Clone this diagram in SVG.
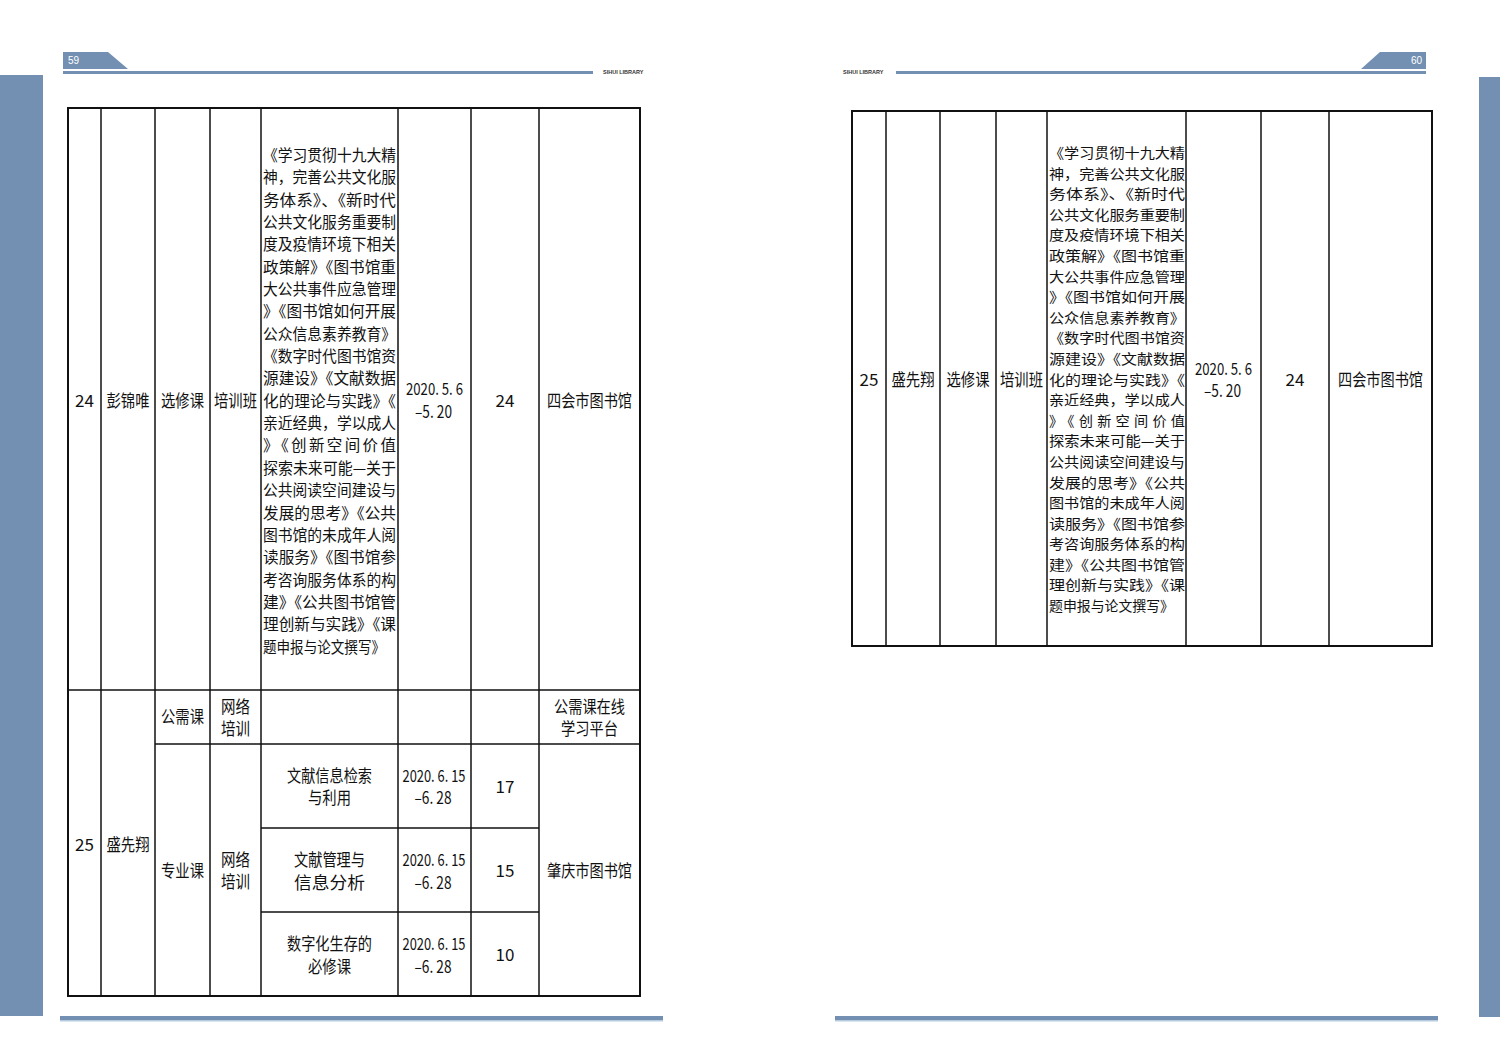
<svg xmlns="http://www.w3.org/2000/svg" width="1500" height="1061" viewBox="0 0 1500 1061">
<style>
.bar{fill:#7390b2}
.t{font-family:"Noto Sans CJK SC","Liberation Sans",sans-serif;font-size:17px;fill:#111;text-anchor:middle}
.l{font-family:"Noto Sans CJK SC","Liberation Sans",sans-serif;font-size:15.5px;fill:#111}
.r{font-family:"Noto Sans CJK SC","Liberation Sans",sans-serif;font-size:14.2px;fill:#111}
.g{stroke:#111;stroke-width:1.5;fill:none}
.o{stroke:#111;stroke-width:2;fill:none}
.pn{font-family:"Liberation Sans",sans-serif;font-size:10px;fill:#fff}
.lib{font-family:"Liberation Sans",sans-serif;font-size:5.5px;fill:#333;font-weight:bold}
</style>
<rect width="1500" height="1061" fill="#fff"/>
<g id="page-decor">
<rect class="bar" x="0" y="75" width="43" height="941"/>
<rect class="bar" x="1479" y="77" width="21" height="940"/>
<polygon class="bar" points="63,52 108,52 128,69 63,69"/>
<text class="pn" x="68" y="64">59</text>
<rect class="bar" x="63" y="71" width="530" height="3"/>
<text class="lib" x="603" y="74">SIHUI LIBRARY</text>
<polygon class="bar" points="1380,52 1426,52 1426,69 1361,69"/>
<text class="pn" x="1411" y="64">60</text>
<rect class="bar" x="896" y="71" width="530" height="3"/>
<text class="lib" x="843" y="74">SIHUI LIBRARY</text>
<rect class="bar" x="60" y="1016" width="603" height="4"/>
<rect x="60" y="1020" width="603" height="1.5" fill="#b8cce0"/>
<rect class="bar" x="835" y="1016" width="603" height="4"/>
<rect x="835" y="1020" width="603" height="1.5" fill="#b8cce0"/>
</g>
<g id="left-table-lines">
<rect class="o" x="68" y="108" width="572" height="888"/>
<line class="o" x1="68" y1="996" x2="640" y2="996"/>
<line class="g" x1="101" y1="108" x2="101" y2="996"/>
<line class="g" x1="155" y1="108" x2="155" y2="996"/>
<line class="g" x1="210" y1="108" x2="210" y2="996"/>
<line class="g" x1="261" y1="108" x2="261" y2="996"/>
<line class="g" x1="398" y1="108" x2="398" y2="996"/>
<line class="g" x1="471" y1="108" x2="471" y2="996"/>
<line class="g" x1="539" y1="108" x2="539" y2="996"/>
<line class="g" x1="68" y1="690" x2="640" y2="690"/>
<line class="g" x1="155" y1="744" x2="640" y2="744"/>
<line class="g" x1="261" y1="828" x2="539" y2="828"/>
<line class="g" x1="261" y1="912" x2="539" y2="912"/>
</g>
<g id="left-row24">
<text class="t" x="84.5" y="407">24</text>
<text class="t" x="128" y="407" textLength="43" lengthAdjust="spacingAndGlyphs">彭锦唯</text>
<text class="t" x="182.5" y="407" textLength="43" lengthAdjust="spacingAndGlyphs">选修课</text>
<text class="t" x="235.5" y="407" textLength="43" lengthAdjust="spacingAndGlyphs">培训班</text>
<text class="l" x="263" y="161" textLength="133" lengthAdjust="spacingAndGlyphs">《学习贯彻十九大精</text>
<text class="l" x="263" y="183" textLength="133" lengthAdjust="spacingAndGlyphs">神，完善公共文化服</text>
<text class="l" x="263" y="206" textLength="133" lengthAdjust="spacingAndGlyphs">务体系》、《新时代</text>
<text class="l" x="263" y="228" textLength="133" lengthAdjust="spacingAndGlyphs">公共文化服务重要制</text>
<text class="l" x="263" y="250" textLength="133" lengthAdjust="spacingAndGlyphs">度及疫情环境下相关</text>
<text class="l" x="263" y="273" textLength="133" lengthAdjust="spacingAndGlyphs">政策解》《图书馆重</text>
<text class="l" x="263" y="295" textLength="133" lengthAdjust="spacingAndGlyphs">大公共事件应急管理</text>
<text class="l" x="263" y="317" textLength="133" lengthAdjust="spacingAndGlyphs">》《图书馆如何开展</text>
<text class="l" x="263" y="340" textLength="133" lengthAdjust="spacingAndGlyphs">公众信息素养教育》</text>
<text class="l" x="263" y="362" textLength="133" lengthAdjust="spacingAndGlyphs">《数字时代图书馆资</text>
<text class="l" x="263" y="384" textLength="133" lengthAdjust="spacingAndGlyphs">源建设》《文献数据</text>
<text class="l" x="263" y="407" textLength="133" lengthAdjust="spacingAndGlyphs">化的理论与实践》《</text>
<text class="l" x="263" y="429" textLength="133" lengthAdjust="spacingAndGlyphs">亲近经典，学以成人</text>
<text class="l" x="263" y="451" textLength="133" lengthAdjust="spacing">》《创新空间价值</text>
<text class="l" x="263" y="474" textLength="133" lengthAdjust="spacingAndGlyphs">探索未来可能—关于</text>
<text class="l" x="263" y="496" textLength="133" lengthAdjust="spacingAndGlyphs">公共阅读空间建设与</text>
<text class="l" x="263" y="519" textLength="133" lengthAdjust="spacingAndGlyphs">发展的思考》《公共</text>
<text class="l" x="263" y="541" textLength="133" lengthAdjust="spacingAndGlyphs">图书馆的未成年人阅</text>
<text class="l" x="263" y="563" textLength="133" lengthAdjust="spacingAndGlyphs">读服务》《图书馆参</text>
<text class="l" x="263" y="586" textLength="133" lengthAdjust="spacingAndGlyphs">考咨询服务体系的构</text>
<text class="l" x="263" y="608" textLength="133" lengthAdjust="spacingAndGlyphs">建》《公共图书馆管</text>
<text class="l" x="263" y="630" textLength="133" lengthAdjust="spacingAndGlyphs">理创新与实践》《课</text>
<text class="l" x="263" y="653" textLength="122" lengthAdjust="spacingAndGlyphs">题申报与论文撰写》</text>
<text class="t" x="434.5" y="395" textLength="57" lengthAdjust="spacingAndGlyphs">2020. 5. 6</text>
<text class="t" x="433.5" y="418" textLength="37" lengthAdjust="spacingAndGlyphs">–5. 20</text>
<text class="t" x="505" y="407">24</text>
<text class="t" x="589.5" y="407" textLength="85" lengthAdjust="spacingAndGlyphs">四会市图书馆</text>
</g>
<g id="left-row25">
<text class="t" x="84.5" y="851">25</text>
<text class="t" x="128" y="851" textLength="43" lengthAdjust="spacingAndGlyphs">盛先翔</text>
<text class="t" x="182.5" y="723" textLength="43" lengthAdjust="spacingAndGlyphs">公需课</text>
<text class="t" x="235.5" y="713" textLength="29" lengthAdjust="spacingAndGlyphs">网络</text>
<text class="t" x="235.5" y="735" textLength="29" lengthAdjust="spacingAndGlyphs">培训</text>
<text class="t" x="589.5" y="713" textLength="71" lengthAdjust="spacingAndGlyphs">公需课在线</text>
<text class="t" x="589.5" y="735" textLength="57" lengthAdjust="spacingAndGlyphs">学习平台</text>
<text class="t" x="182.5" y="877" textLength="43" lengthAdjust="spacingAndGlyphs">专业课</text>
<text class="t" x="235.5" y="866" textLength="29" lengthAdjust="spacingAndGlyphs">网络</text>
<text class="t" x="235.5" y="888" textLength="29" lengthAdjust="spacingAndGlyphs">培训</text>
<text class="t" x="589.5" y="877" textLength="85" lengthAdjust="spacingAndGlyphs">肇庆市图书馆</text>
<text class="t" x="329.5" y="782" textLength="85" lengthAdjust="spacingAndGlyphs">文献信息检索</text>
<text class="t" x="329.5" y="804" textLength="43" lengthAdjust="spacingAndGlyphs">与利用</text>
<text class="t" x="434" y="782" textLength="63" lengthAdjust="spacingAndGlyphs">2020. 6. 15</text>
<text class="t" x="433" y="804" textLength="37" lengthAdjust="spacingAndGlyphs">–6. 28</text>
<text class="t" x="505" y="793">17</text>
<text class="t" x="329.5" y="866" textLength="71" lengthAdjust="spacingAndGlyphs">文献管理与</text>
<text class="t" x="329.5" y="889" textLength="71" lengthAdjust="spacingAndGlyphs">信息分析</text>
<text class="t" x="434" y="866" textLength="63" lengthAdjust="spacingAndGlyphs">2020. 6. 15</text>
<text class="t" x="433" y="889" textLength="37" lengthAdjust="spacingAndGlyphs">–6. 28</text>
<text class="t" x="505" y="877">15</text>
<text class="t" x="329.5" y="950" textLength="85" lengthAdjust="spacingAndGlyphs">数字化生存的</text>
<text class="t" x="329.5" y="973" textLength="43" lengthAdjust="spacingAndGlyphs">必修课</text>
<text class="t" x="434" y="950" textLength="63" lengthAdjust="spacingAndGlyphs">2020. 6. 15</text>
<text class="t" x="433" y="973" textLength="37" lengthAdjust="spacingAndGlyphs">–6. 28</text>
<text class="t" x="505" y="961">10</text>
</g>
<g id="right-table-lines">
<rect class="o" x="852" y="111" width="580" height="535"/>
<line class="g" x1="886" y1="111" x2="886" y2="646"/>
<line class="g" x1="940" y1="111" x2="940" y2="646"/>
<line class="g" x1="996" y1="111" x2="996" y2="646"/>
<line class="g" x1="1047" y1="111" x2="1047" y2="646"/>
<line class="g" x1="1186" y1="111" x2="1186" y2="646"/>
<line class="g" x1="1261" y1="111" x2="1261" y2="646"/>
<line class="g" x1="1329" y1="111" x2="1329" y2="646"/>
</g>
<g id="right-row25">
<text class="t" x="869" y="386">25</text>
<text class="t" x="913" y="386" textLength="43" lengthAdjust="spacingAndGlyphs">盛先翔</text>
<text class="t" x="968" y="386" textLength="43" lengthAdjust="spacingAndGlyphs">选修课</text>
<text class="t" x="1021.5" y="386" textLength="43" lengthAdjust="spacingAndGlyphs">培训班</text>
<text class="r" x="1049" y="158" textLength="136" lengthAdjust="spacingAndGlyphs">《学习贯彻十九大精</text>
<text class="r" x="1049" y="179" textLength="136" lengthAdjust="spacingAndGlyphs">神，完善公共文化服</text>
<text class="r" x="1049" y="199" textLength="136" lengthAdjust="spacingAndGlyphs">务体系》、《新时代</text>
<text class="r" x="1049" y="220" textLength="136" lengthAdjust="spacingAndGlyphs">公共文化服务重要制</text>
<text class="r" x="1049" y="240" textLength="136" lengthAdjust="spacingAndGlyphs">度及疫情环境下相关</text>
<text class="r" x="1049" y="261" textLength="136" lengthAdjust="spacingAndGlyphs">政策解》《图书馆重</text>
<text class="r" x="1049" y="282" textLength="136" lengthAdjust="spacingAndGlyphs">大公共事件应急管理</text>
<text class="r" x="1049" y="302" textLength="136" lengthAdjust="spacingAndGlyphs">》《图书馆如何开展</text>
<text class="r" x="1049" y="323" textLength="136" lengthAdjust="spacingAndGlyphs">公众信息素养教育》</text>
<text class="r" x="1049" y="343" textLength="136" lengthAdjust="spacingAndGlyphs">《数字时代图书馆资</text>
<text class="r" x="1049" y="364" textLength="136" lengthAdjust="spacingAndGlyphs">源建设》《文献数据</text>
<text class="r" x="1049" y="385" textLength="136" lengthAdjust="spacingAndGlyphs">化的理论与实践》《</text>
<text class="r" x="1049" y="405" textLength="136" lengthAdjust="spacingAndGlyphs">亲近经典，学以成人</text>
<text class="r" x="1049" y="426" textLength="136" lengthAdjust="spacing">》《创新空间价值</text>
<text class="r" x="1049" y="446" textLength="136" lengthAdjust="spacingAndGlyphs">探索未来可能—关于</text>
<text class="r" x="1049" y="467" textLength="136" lengthAdjust="spacingAndGlyphs">公共阅读空间建设与</text>
<text class="r" x="1049" y="488" textLength="136" lengthAdjust="spacingAndGlyphs">发展的思考》《公共</text>
<text class="r" x="1049" y="508" textLength="136" lengthAdjust="spacingAndGlyphs">图书馆的未成年人阅</text>
<text class="r" x="1049" y="529" textLength="136" lengthAdjust="spacingAndGlyphs">读服务》《图书馆参</text>
<text class="r" x="1049" y="549" textLength="136" lengthAdjust="spacingAndGlyphs">考咨询服务体系的构</text>
<text class="r" x="1049" y="570" textLength="136" lengthAdjust="spacingAndGlyphs">建》《公共图书馆管</text>
<text class="r" x="1049" y="590" textLength="136" lengthAdjust="spacingAndGlyphs">理创新与实践》《课</text>
<text class="r" x="1049" y="611" textLength="125" lengthAdjust="spacingAndGlyphs">题申报与论文撰写》</text>
<text class="t" x="1223.5" y="375" textLength="57" lengthAdjust="spacingAndGlyphs">2020. 5. 6</text>
<text class="t" x="1222.5" y="397" textLength="37" lengthAdjust="spacingAndGlyphs">–5. 20</text>
<text class="t" x="1295" y="386">24</text>
<text class="t" x="1380.5" y="386" textLength="85" lengthAdjust="spacingAndGlyphs">四会市图书馆</text>
</g>
</svg>
